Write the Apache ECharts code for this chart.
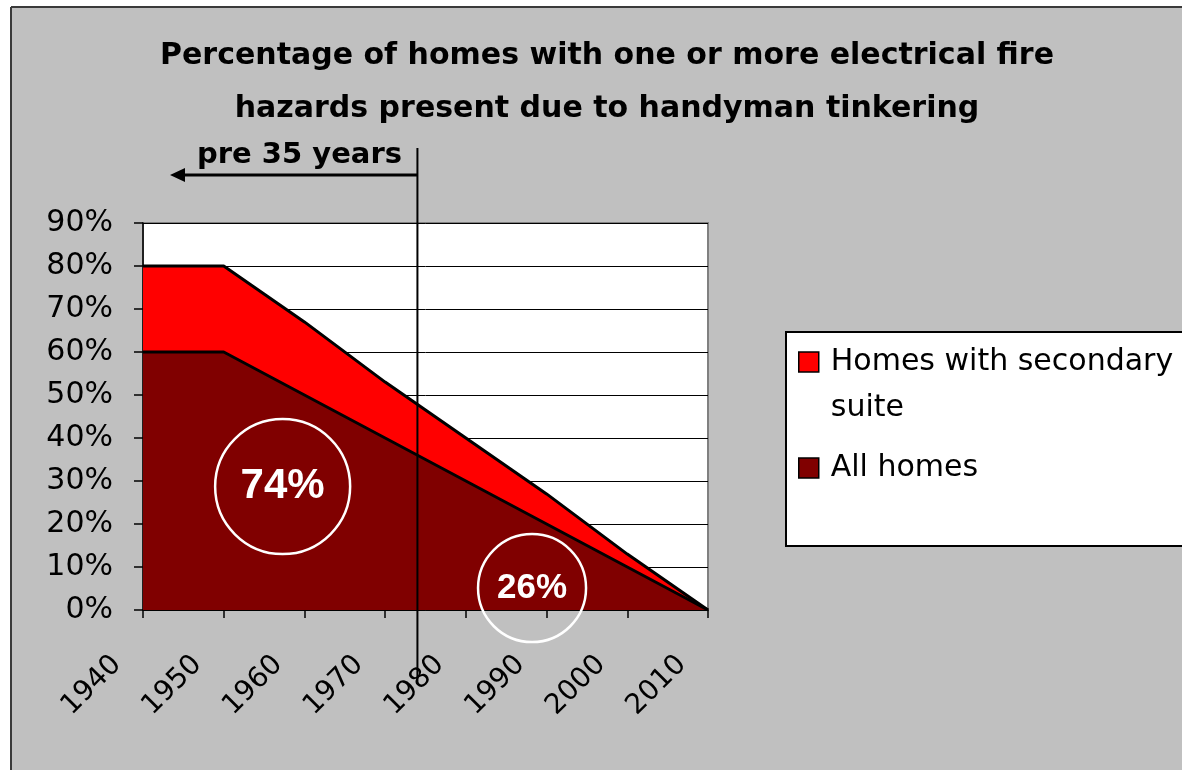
<!DOCTYPE html>
<html><head><meta charset="utf-8">
<script src="https://cdn.jsdelivr.net/npm/echarts@6/dist/echarts.min.js"></script>
<style>html,body{margin:0;padding:0;background:#fff}#c{width:1182px;height:770px}</style>
</head><body><div id="c"></div>
<script>
// ---- data ----
const titleText = 'Percentage of homes with one or more electrical fire\nhazards present due to handyman tinkering';
const years = [1940, 1950, 1960, 1970, 1980, 1990, 2000, 2010];
const suiteName = 'Homes with secondary suite';
const allName = 'All homes';
const suiteValues = [80, 80, 67, 53, 40, 27, 13, 0];
const allHomesValues = [60, 60, 50, 40, 30, 20, 10, 0];
const cutoffYear = 1974;
const cutoffLabel = 'pre 35 years';
const noteLabels = ['74%', '26%'];
const noteYears = [1957.3, 1988.2];
const noteValues = [28.7, 5.1];

const chart = echarts.init(document.getElementById('c'), null, {renderer: 'canvas'});
const pairs = vals => years.map((y, i) => [y, vals[i]]);
const noteSizes = [135, 108];
const noteFonts = [42, 35];

chart.setOption({
  backgroundColor: '#c0c0c0',
  animation: false,
  title: {
    text: titleText, left: 607, textAlign: 'center', top: 30, padding: 0,
    textStyle: {fontFamily: 'DejaVu Sans', fontWeight: 'bold', fontSize: 30, lineHeight: 53, color: '#000'}
  },
  grid: {left: 143, right: 474, top: 223, bottom: 160, show: true, backgroundColor: '#fff', borderColor: '#808080', borderWidth: 2},
  xAxis: {
    type: 'value', min: 1940, max: 2010, interval: 10,
    axisLine: {show: true, lineStyle: {color: '#000', width: 1.5}},
    axisTick: {show: true, length: 8, lineStyle: {color: '#000', width: 1.5}},
    splitLine: {show: false},
    axisLabel: {rotate: 45, margin: 24, padding: [0, 37, 0, 0], fontSize: 28, fontFamily: 'DejaVu Sans', color: '#000', formatter: v => String(v)}
  },
  yAxis: {
    type: 'value', min: 0, max: 90, interval: 10,
    axisLine: {show: true, lineStyle: {color: '#000', width: 1.5}},
    axisTick: {show: true, length: 9, lineStyle: {color: '#000', width: 1.5}},
    splitLine: {show: true, lineStyle: {color: '#000', width: 1}},
    axisLabel: {margin: 30, fontSize: 30, fontFamily: 'DejaVu Sans', color: '#000', formatter: '{value}%'}
  },
  legend: [
    {
      data: [{name: suiteName, itemStyle: {color: '#ff0000', borderColor: '#000', borderWidth: 1.5}}],
      orient: 'vertical', left: 798, top: 293, padding: 0, icon: 'rect', itemWidth: 20, itemHeight: 20, selectedMode: false,
      formatter: n => '\n' + n.replace('secondary ', 'secondary\n'),
      textStyle: {fontFamily: 'DejaVu Sans', fontSize: 30, lineHeight: 46, color: '#000', padding: [0, 0, 0, 7]}
    },
    {
      data: [{name: allName, itemStyle: {color: '#800000', borderColor: '#000', borderWidth: 1.5}}],
      orient: 'vertical', left: 798, top: 445, padding: 0, icon: 'rect', itemWidth: 20, itemHeight: 20, selectedMode: false,
      textStyle: {fontFamily: 'DejaVu Sans', fontSize: 30, lineHeight: 46, color: '#000', padding: [0, 0, 0, 7]}
    }
  ],
  series: [
    {
      name: suiteName, type: 'line', data: pairs(suiteValues), symbol: 'none', color: '#ff0000', z: 2,
      lineStyle: {color: '#000', width: 3}, areaStyle: {color: '#ff0000', opacity: 1}
    },
    {
      name: allName, type: 'line', data: pairs(allHomesValues), symbol: 'none', color: '#800000', z: 3,
      lineStyle: {color: '#000', width: 3}, areaStyle: {color: '#800000', opacity: 1},
      markPoint: {
        symbol: 'circle', silent: true,
        itemStyle: {color: 'rgba(0,0,0,0)', borderColor: '#fff', borderWidth: 2.5},
        label: {show: true, position: 'inside', color: '#fff', fontWeight: 'bold', fontFamily: 'Liberation Sans'},
        data: noteLabels.map((t, i) => ({
          coord: [noteYears[i], noteValues[i]], symbolSize: noteSizes[i],
          label: {formatter: t, fontSize: noteFonts[i]}
        }))
      }
    }
  ]
});

const px = chart.convertToPixel({gridIndex: 0}, [cutoffYear, 0])[0];
chart.setOption({
  graphic: {elements: [
    {type: 'rect', shape: {x: 0, y: 0, width: 1182, height: 7}, style: {fill: '#fff'}, silent: true},
    {type: 'rect', shape: {x: 0, y: 0, width: 11, height: 770}, style: {fill: '#fff'}, silent: true},
    {type: 'line', shape: {x1: 11, y1: 7, x2: 1182, y2: 7}, style: {stroke: '#3a3a3a', lineWidth: 2}, silent: true},
    {type: 'line', shape: {x1: 11, y1: 7, x2: 11, y2: 770}, style: {stroke: '#3a3a3a', lineWidth: 2}, silent: true},
    {type: 'rect', shape: {x: 786, y: 332, width: 500, height: 214}, style: {fill: '#fff', stroke: '#000', lineWidth: 2}, silent: true},
    {type: 'line', z: 100, shape: {x1: px, y1: 148, x2: px, y2: 684}, style: {stroke: '#000', lineWidth: 2}, silent: true},
    {type: 'line', z: 100, shape: {x1: px, y1: 175, x2: 182, y2: 175}, style: {stroke: '#000', lineWidth: 3}, silent: true},
    {type: 'polygon', z: 100, shape: {points: [[170, 175], [185, 168], [185, 182]]}, style: {fill: '#000'}, silent: true},
    {type: 'text', z: 100, style: {text: cutoffLabel, x: 197, y: 170, verticalAlign: 'bottom', fill: '#000', font: 'bold 29px "DejaVu Sans"'}, silent: true}
  ]}
});
</script></body></html>
